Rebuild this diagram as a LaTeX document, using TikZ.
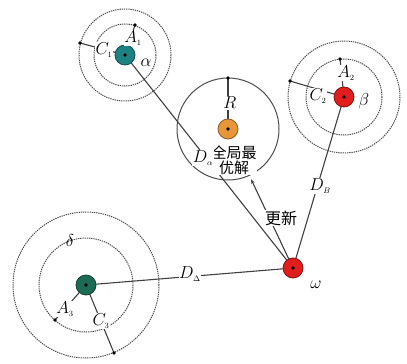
\documentclass[tikz,border=0pt]{standalone}
\usepackage{fontspec}
\newfontfamily\cjk{Noto Sans CJK SC}
\usetikzlibrary{arrows.meta}
\definecolor{tealw}{HTML}{1E8282}
\definecolor{redw}{HTML}{E01E1E}
\definecolor{orangew}{HTML}{E8963A}
\definecolor{greenw}{HTML}{1B6B55}
\begin{document}
\begin{tikzpicture}[x=1pt,y=-1pt,font=\fontsize{17}{18}\selectfont,
  wolf/.style={circle,minimum size=20pt,inner sep=0pt,draw=#1!60!black,line width=0.8pt,fill=#1},
  ring/.style={draw=gray!60!black,dash pattern=on 1.3pt off 0.9pt,line width=1pt},
  solidring/.style={draw=gray!60!black,line width=1pt},
  dot/.style={circle,fill=black,inner sep=0pt,minimum size=3.6pt},
  link/.style={draw=gray!50!black,line width=1.1pt},
  lab/.style={fill=white,inner sep=0.6pt},
  txt/.style={inner sep=0.5pt}]
\useasboundingbox (0,0) rectangle (407,364);
% centres
\coordinate (alpha) at (125,55);
\coordinate (beta) at (344,97);
\coordinate (gb) at (228,129);
\coordinate (delta) at (86,285);
\coordinate (omega) at (293,268);
% radius end points
\coordinate (a1) at (135,25);
\coordinate (c1) at (80,43);
\coordinate (a2) at (340,59);
\coordinate (c2) at (290,81);
\coordinate (rr) at (228,78);
\coordinate (a3) at (55,320);
\coordinate (c3) at (114,353);
\coordinate (upd) at (251,179);
% rings
\draw[ring] (alpha) circle[radius=31];
\draw[ring] (alpha) circle[radius=46];
\draw[ring] (beta) circle[radius=38];
\draw[ring] (beta) circle[radius=56];
\draw[ring] (delta) circle[radius=47];
\draw[ring] (delta) circle[radius=73];
\draw[solidring] (gb) circle[radius=51];
% radius lines
\draw[link] (alpha) -- (a1);
\draw[link] (alpha) -- (c1);
\draw[link] (beta) -- (a2);
\draw[link] (beta) -- (c2);
\draw[link] (gb) -- (rr);
\draw[link] (delta) -- (a3);
\draw[link] (delta) -- (c3);
% distance lines
\draw[link] (alpha) -- (omega);
\draw[link] (beta) -- (omega);
\draw[link] (delta) -- (omega);
\draw[link,-{Stealth[length=5pt,width=3.5pt]}] (omega) -- (upd);
% dots on rings
\foreach \p in {a1,c1,a2,c2,rr,a3,c3} \node[dot] (\p d) at (\p) {};
% wolves
\node[wolf=tealw] (alphaN) at (alpha) {};
\node[wolf=redw] (betaN) at (beta) {};
\node[wolf=orangew] (gbN) at (gb) {};
\node[wolf=greenw] (deltaN) at (delta) {};
\node[wolf=redw] (omegaN) at (omega) {};
\foreach \p in {alpha,beta,gb,delta,omega} \node[dot] (\p c) at (\p) {};
% labels
\node[lab] (la1) at (133,38) {$A_{\scriptscriptstyle 1}$};
\node[lab] (lc1) at (104,50) {$C_{\scriptscriptstyle 1}$};
\node[txt] (lal) at (146,63) {$\alpha$};
\node[lab] (la2) at (346,73) {$A_{\scriptscriptstyle 2}$};
\node[lab] (lc2) at (318,96) {$C_{\scriptscriptstyle 2}$};
\node[txt] (lbe) at (364,101) {$\beta$};
\node[lab] (lr) at (230,103) {$R$};
\node[lab,align=center,font=\cjk\fontsize{15}{13}\selectfont] (lgb) at (234,160) {全局最\\优解};
\node[lab] (lda) at (203,158) {$D_{\scriptscriptstyle\alpha}$};
\node[lab] (ldb) at (320,186) {$D_{\scriptscriptstyle B}$};
\node[lab,font=\cjk\fontsize{16}{17}\selectfont] (lup) at (281,218) {更新};
\node[lab] (ldd) at (190,274) {$D_{\scriptscriptstyle\Delta}$};
\node[txt] (lom) at (316,285) {$\omega$};
\node[txt] (lde) at (70,240) {$\delta$};
\node[lab] (la3) at (65,309) {$A_{\scriptscriptstyle 3}$};
\node[lab] (lc3) at (101,321) {$C_{\scriptscriptstyle 3}$};
\end{tikzpicture}
\end{document}
